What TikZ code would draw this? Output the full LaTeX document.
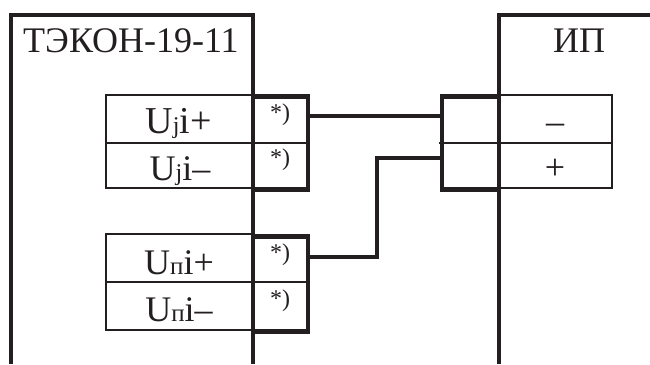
\documentclass[tikz,border=0pt]{standalone}
\usepackage{fontspec}
\setmainfont{Liberation Serif}
\definecolor{ink}{HTML}{231F20}
\newcommand{\bigt}{\fontsize{36}{36}\selectfont}
\newcommand{\larget}{\fontsize{38}{38}\selectfont}
\newcommand{\subt}{\fontsize{24}{24}\selectfont}
\newcommand{\subp}{\fontsize{25}{25}\selectfont}
\newcommand{\astt}{\fontsize{24}{24}\selectfont}
\newcommand{\signt}{\fontsize{36}{36}\selectfont}
\tikzset{
  x=1pt,y=-1pt,
  thickln/.style={draw=ink,line width=4.4pt},
  thinln/.style={draw=ink,line width=2pt},
  wire/.style={draw=ink,line width=3.6pt},
  lab/.style={text=ink,inner sep=0pt,anchor=base},
}
\begin{document}
\begin{tikzpicture}
\useasboundingbox (0,0) rectangle (650,364);
% label cells
\draw[thinln] (106,95) rectangle (253,188);
\draw[thinln] (106,143) -- (253,143);
\draw[thinln] (106,234) rectangle (253,330);
\draw[thinln] (106,282) -- (253,282);
\draw[thinln] (499,95) rectangle (612,188);
\draw[thinln] (499,143) -- (612,143);
\draw[thinln] (253,143) -- (308,143);
\draw[thinln] (253,282) -- (308,282);
\draw[thinln] (439,143) -- (499,143);
% device frames
\draw[thickln] (11,364) -- (11,15) -- (253,15) -- (253,364);
\draw[thickln] (499,364) -- (499,15) -- (650,15);
% terminal blocks
\draw[thickln] (251,96.5) -- (308,96.5) -- (308,189.5) -- (251,189.5);
\draw[thickln] (251,236.5) -- (308,236.5) -- (308,331.5) -- (251,331.5);
\draw[thickln] (499,96.5) -- (442,96.5) -- (442,189.5) -- (499,189.5);
% texts
\node[lab] (title) at (131,52) {\bigt ТЭКОН-19-11};
\node[lab] (ip) at (579,52) {\bigt ИП};
\node[lab] (ujp) at (178.5,133) {\larget U{\subt j}i+};
\node[lab] (ujm) at (180,180) {\bigt U{\subt j}i–};
\node[lab] (upp) at (179,274) {\bigt U{\subp п}i+};
\node[lab] (upm) at (179,321) {\bigt U{\subp п}i–};
\node[lab] (a1) at (280,120) {\astt *)};
\node[lab] (a2) at (280,165) {\astt *)};
\node[lab] (a3) at (280,260) {\astt *)};
\node[lab] (a4) at (280,306) {\astt *)};
\node[lab] (minus) at (555,133) {\signt –};
\node[lab] (plus) at (555,179) {\signt +};
% connectors
\coordinate (t1) at (310,116);
\coordinate (r1) at (441,116);
\coordinate (t3) at (310,257);
\coordinate (r2) at (441,158);
\draw[wire] (t1) -- (r1);
\draw[wire] (t3) -| (377,158) -- (r2);
\end{tikzpicture}
\end{document}
